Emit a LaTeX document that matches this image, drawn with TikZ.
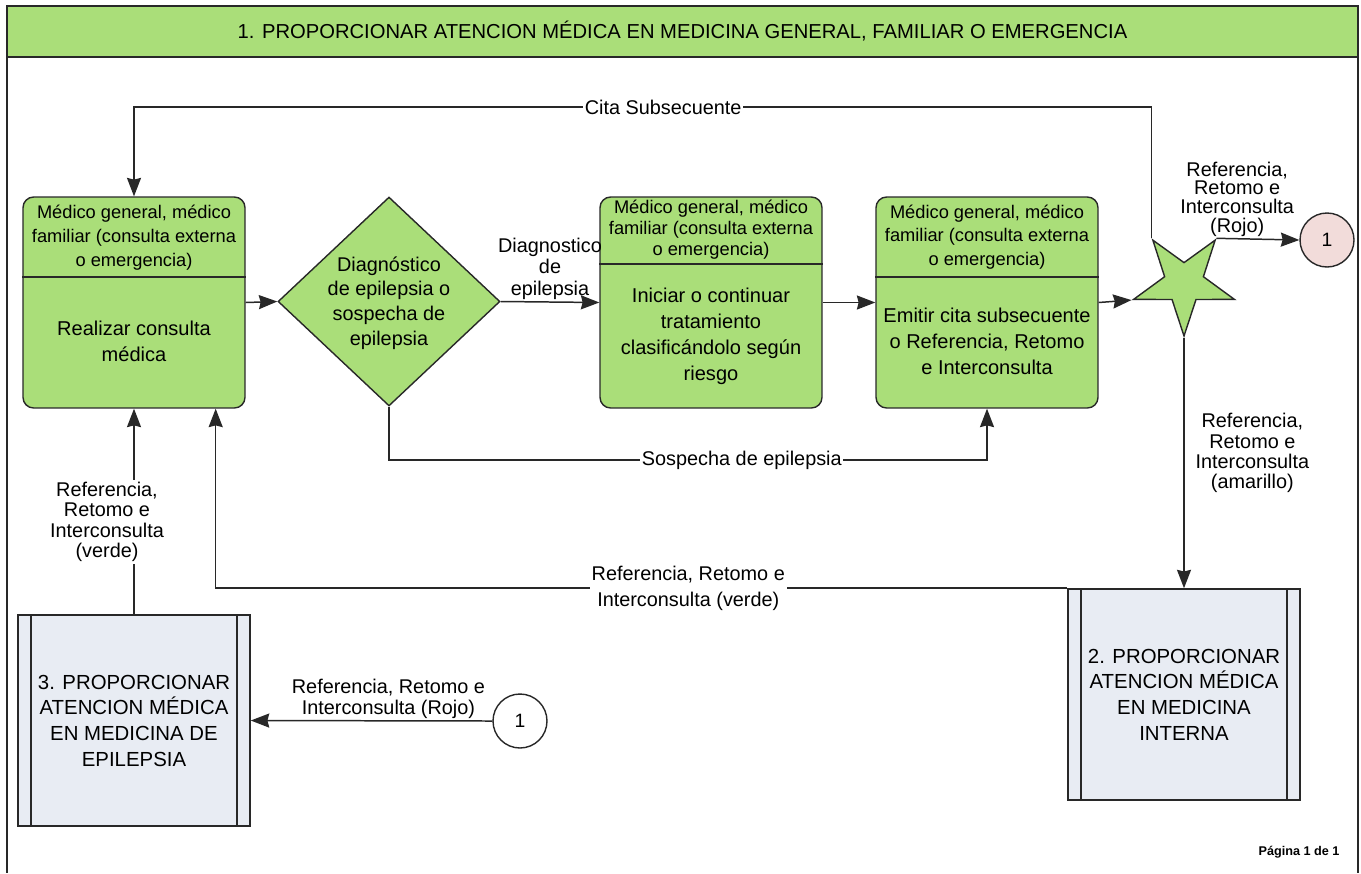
\documentclass[tikz,border=0pt]{standalone}
\usepackage{fontspec}
\setmainfont{Liberation Sans}
\usetikzlibrary{shapes.geometric,arrows.meta,calc}
\definecolor{boxgreen}{RGB}{170 222 121}
\definecolor{subblue}{RGB}{232 236 243}
\definecolor{conpink}{RGB}{242 220 218}
\definecolor{edgegray}{RGB}{40 40 40}
\tikzstyle{banner} = [rectangle, minimum width=27.02cm, minimum height=1.02cm, draw=edgegray, fill=boxgreen, line width=1pt, font=\fontsize{11.5}{14}\selectfont]
\tikzstyle{process} = [rectangle, rounded corners=6pt, minimum width=4.44cm, minimum height=4.22cm, draw=edgegray, fill=boxgreen, line width=0.8pt]
\tikzstyle{decision} = [diamond, minimum width=4.44cm, minimum height=4.18cm, inner sep=0pt, draw=edgegray, fill=boxgreen, line width=0.8pt]
\tikzstyle{subproc} = [rectangle, minimum width=4.64cm, minimum height=4.22cm, draw=edgegray, fill=subblue, line width=0.9pt, align=center, font=\fontsize{11.6}{14.6}\selectfont]
\tikzstyle{connector} = [circle, minimum size=1.08cm, inner sep=0pt, draw=edgegray, line width=0.8pt, font=\fontsize{11}{13}\selectfont]
\tikzstyle{junction} = [star, star points=5, star point ratio=2.6, shape border rotate=180, minimum size=2.12cm, inner sep=0pt, draw=edgegray, fill=boxgreen, line width=0.8pt]
\tikzstyle{who} = [align=center, font=\fontsize{10.4}{13.5}\selectfont]
\tikzstyle{task} = [align=center, font=\fontsize{11.4}{14.8}\selectfont]
\tikzstyle{lbl} = [align=center, fill=white, inner sep=1pt, font=\fontsize{11.3}{11.8}\selectfont]
\tikzstyle{divider} = [line width=0.9pt, draw=edgegray]
\tikzstyle{arrow} = [line width=0.85pt, draw=edgegray, -{Stealth[length=10.5pt, width=8pt, inset=1pt]}]

\begin{document}
\begin{tikzpicture}[x=0.02cm, y=-0.02cm]
    \useasboundingbox (0,0) rectangle (1361,873);
    \draw [line width=1pt, edgegray] (7,6) -- (7,873);
    \draw [line width=1pt, edgegray] (1358,6) -- (1358,873);
    \node (title) [banner] at (682.5,31.5) {1. PROPORCIONAR ATENCION MÉDICA EN MEDICINA GENERAL, FAMILIAR O EMERGENCIA};

    \node (b1) [process] at (134,302.5) {};
    \node (b1who) [who] at (134,237.5) {Médico general, médico\\familiar (consulta externa\\o emergencia)};
    \draw [divider] (b1.west |- 0,277) -- (b1.east |- 0,277);
    \node (b1task) [task] at (134,341.5) {Realizar consulta\\médica};

    \node (dia) [decision] at (389,301.5) {};
    \node (diatxt) [task, font=\fontsize{11.3}{14}\selectfont] at (389,303) {Diagnóstico\\de epilepsia o\\sospecha de\\epilepsia};

    \node (b2) [process] at (711,302.5) {};
    \node (b2who) [who, font=\fontsize{10.4}{11.9}\selectfont] at (711,230) {Médico general, médico\\familiar (consulta externa\\o emergencia)};
    \draw [divider] (b2.west |- 0,264) -- (b2.east |- 0,264);
    \node (b2task) [task] at (711,336) {Iniciar o continuar\\tratamiento\\clasificándolo según\\riesgo};

    \node (b3) [process] at (987,302.5) {};
    \node (b3who) [who] at (987,237) {Médico general, médico\\familiar (consulta externa\\o emergencia)};
    \draw [divider] (b3.west |- 0,277) -- (b3.east |- 0,277);
    \node (b3task) [task] at (987,341) {Emitir cita subsecuente\\o Referencia, Retomo\\e Interconsulta};

    \node (star) [junction] at (1184,283) {};
    \node (c1r) [connector, fill=conpink] at (1327,240) {1};
    \node (c1l) [connector, fill=white] at (520,721) {1};

    \node (p3) [subproc] at (134,720.5) {3. PROPORCIONAR\\ATENCION MÉDICA\\EN MEDICINA DE\\EPILEPSIA};
    \draw [divider] ($(p3.north west)+(14,0)$) -- ($(p3.south west)+(14,0)$);
    \draw [divider] ($(p3.north east)+(-14,0)$) -- ($(p3.south east)+(-14,0)$);
    \node (p2) [subproc] at (1184,694.5) {2. PROPORCIONAR\\ATENCION MÉDICA\\EN MEDICINA\\INTERNA};
    \draw [divider] ($(p2.north west)+(14,0)$) -- ($(p2.south west)+(14,0)$);
    \draw [divider] ($(p2.north east)+(-14,0)$) -- ($(p2.south east)+(-14,0)$);

    \coordinate (b1in) at ($(b1.south east)+(-30,0)$);

    \draw [arrow] (b1.east) -- (dia.west);
    \draw [arrow] (dia.east) -- node[lbl, above, fill=none, font=\fontsize{11.3}{12.2}\selectfont] {Diagnostico\\de\\epilepsia} (b2.west);
    \draw [arrow] (b2.east) -- (b3.west);
    \draw [arrow] (b3.east) -- (star.outer point 5);
    \draw [arrow] (star.outer point 3) -- node[lbl, above, pos=0.25, fill=none, font=\fontsize{11.3}{10.6}\selectfont] {Referencia,\\Retomo e\\Interconsulta\\(Rojo)} (c1r.west);
    \draw [arrow] (star.outer point 4) -- (star.outer point 4 |- 0,107) -- node[lbl, pos=0.48] {Cita Subsecuente} (b1.north |- 0,107) -- (b1.north);
    \draw [arrow] (dia.south) -- (dia.south |- 0,460) -- node[lbl, pos=0.59] {Sospecha de epilepsia} (b3.south |- 0,460) -- (b3.south);
    \draw [arrow] (star.outer point 1) -- node[lbl, right, pos=0.46, xshift=0.18cm, fill=none, font=\fontsize{11.3}{11.6}\selectfont] {Referencia,\\Retomo e\\Interconsulta\\(amarillo)} (p2.north);
    \draw [arrow] (p2.north west) -- node[lbl, pos=0.445, font=\fontsize{11.3}{14.7}\selectfont] {Referencia, Retomo e\\Interconsulta (verde)} (p2.north west -| b1in) -- (b1in);
    \draw [arrow] (p3.north) -- node[lbl, pos=0.45, xshift=-0.54cm, font=\fontsize{11.3}{11.7}\selectfont] {Referencia,\\Retomo e\\Interconsulta\\(verde)} (b1.south);
    \draw [arrow] (c1l.west) -- node[lbl, above, pos=0.43, fill=none, font=\fontsize{11.3}{11.9}\selectfont] {Referencia, Retomo e\\Interconsulta (Rojo)} (p3.east);

    \node (pag) [font=\bfseries\fontsize{7.2}{9}\selectfont] at (1299,852) {Página 1 de 1};
\end{tikzpicture}
\end{document}
